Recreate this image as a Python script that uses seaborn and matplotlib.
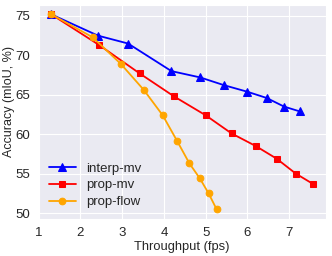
import matplotlib
matplotlib.use("Agg")
import matplotlib.pyplot as plt
import seaborn as sns

# throughput (fps) vs accuracy (mIoU, %)
interp_mv_fps = [1.30, 2.42, 3.14, 4.18, 4.87, 5.45, 5.99, 6.46, 6.88, 7.25]
interp_mv_acc = [75.2, 72.5, 71.5, 68.0, 67.2, 66.2, 65.4, 64.6, 63.5, 62.9]

prop_mv_fps = [1.30, 2.45, 3.42, 4.24, 5.00, 5.62, 6.20, 6.70, 7.16, 7.57]
prop_mv_acc = [75.2, 71.3, 67.7, 64.8, 62.4, 60.1, 58.5, 56.9, 55.0, 53.7]

prop_flow_fps = [1.30, 2.29, 2.97, 3.52, 3.97, 4.32, 4.61, 4.86, 5.07, 5.26]
prop_flow_acc = [75.2, 72.3, 68.9, 65.6, 62.4, 59.1, 56.3, 54.4, 52.5, 50.5]

sns.set_style("darkgrid")
plt.rcParams['font.family'] = ['Liberation Sans', 'DejaVu Sans']

fig = plt.figure(figsize=(3.32, 2.56), dpi=100)
ax = fig.add_axes([0.115, 0.145, 0.867, 0.837])

sns.lineplot(x=interp_mv_fps, y=interp_mv_acc, ax=ax, color='blue', marker='^',
             markersize=5.2, markeredgecolor='blue', lw=1.3, label='interp-mv')
sns.lineplot(x=prop_mv_fps, y=prop_mv_acc, ax=ax, color='red', marker='s',
             markersize=5, markeredgecolor='red', lw=1.3, label='prop-mv')
sns.lineplot(x=prop_flow_fps, y=prop_flow_acc, ax=ax, color='orange', marker='o',
             markersize=4.8, markeredgecolor='orange', lw=1.3, label='prop-flow')

ax.set_xticks([1, 2, 3, 4, 5, 6, 7])
ax.set_yticks([50, 55, 60, 65, 70, 75])
ax.tick_params(labelsize=9.5, pad=2)
ax.set_xlabel("Throughput (fps)", fontsize=9.3, labelpad=2)
ax.set_ylabel("Accuracy (mIoU, %)", fontsize=9)
ax.yaxis.set_label_coords(-0.082, 0.546)
ax.legend(loc='lower left', frameon=False, fontsize=9.5, handlelength=2.05,
          borderaxespad=0.4, labelspacing=0.35, handletextpad=0.8)

plt.savefig("out.png", dpi=100)
